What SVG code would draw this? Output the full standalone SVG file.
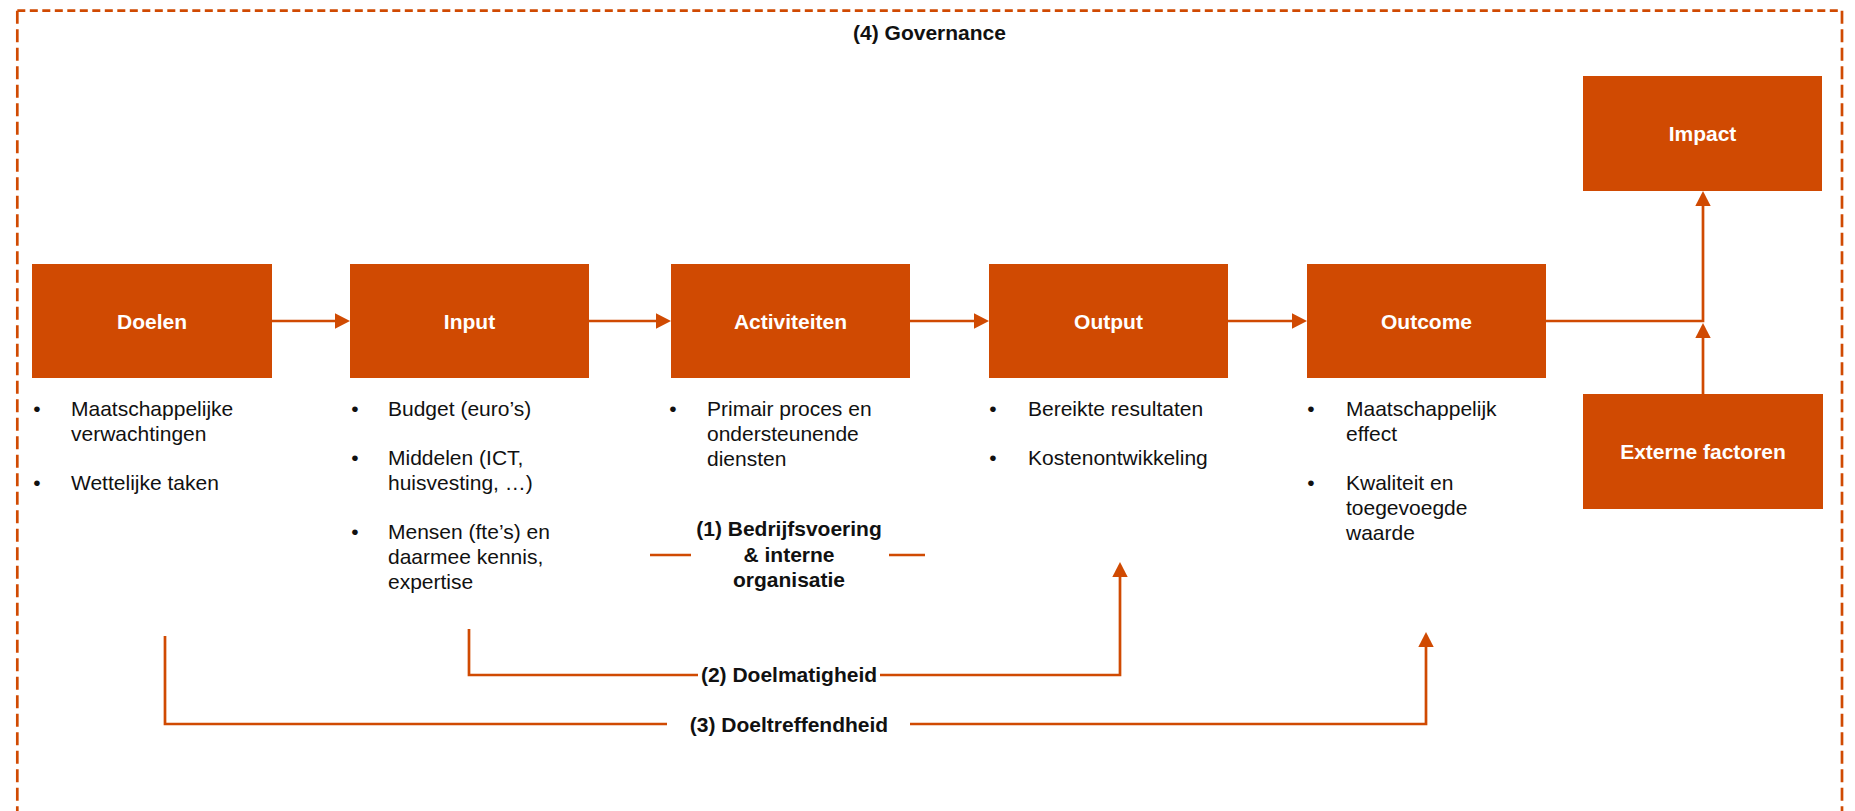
<svg xmlns="http://www.w3.org/2000/svg" width="1855" height="811" viewBox="0 0 1855 811">
<style>
.box{fill:#D04A02;}
.bt{font-family:"Liberation Sans",Arial,sans-serif;font-size:21px;font-weight:bold;fill:#FFFFFF;text-anchor:middle;}
.tx{font-family:"Liberation Sans",Arial,sans-serif;font-size:21px;fill:#111111;}
.bu{font-family:"Liberation Sans",Arial,sans-serif;font-size:21px;fill:#111111;text-anchor:middle;}
.lb{font-family:"Liberation Sans",Arial,sans-serif;font-size:21px;font-weight:bold;fill:#111111;text-anchor:middle;}
.ln{fill:none;stroke:#D04A02;stroke-width:2.7;}
.bh{fill:none;stroke:#D04A02;stroke-width:2.7;stroke-dasharray:8 4.5;}
.bv{fill:none;stroke:#D04A02;stroke-width:2.7;stroke-dasharray:13 5.5;}
</style>
<defs>
<marker id="ah" markerUnits="userSpaceOnUse" viewBox="0 0 15 15.4" markerWidth="15" markerHeight="15.4" refX="0" refY="7.7" orient="auto">
<path d="M0,0 L15,7.7 L0,15.4 Z" fill="#D04A02"/>
</marker>
</defs>
<rect width="1855" height="811" fill="#FFFFFF"/>

<g id="governance">
<line class="bh" x1="17.3" y1="10.7" x2="1842" y2="10.7"/>
<line class="bv" x1="17.3" y1="10.7" x2="17.3" y2="820"/>
<line class="bv" x1="1842" y1="10.7" x2="1842" y2="820"/>
<text class="lb" x="929.5" y="40">(4) Governance</text>
</g>

<g id="connectors">
<line class="ln" x1="272" y1="321" x2="335" y2="321" marker-end="url(#ah)"/>
<line class="ln" x1="589" y1="321" x2="656" y2="321" marker-end="url(#ah)"/>
<line class="ln" x1="910" y1="321" x2="974" y2="321" marker-end="url(#ah)"/>
<line class="ln" x1="1228" y1="321" x2="1292" y2="321" marker-end="url(#ah)"/>
<polyline class="ln" points="1546,321 1703,321 1703,206" marker-end="url(#ah)"/>
<line class="ln" x1="1703" y1="394" x2="1703" y2="338" marker-end="url(#ah)"/>
<line class="ln" x1="650" y1="555" x2="691" y2="555"/>
<line class="ln" x1="889" y1="555" x2="925" y2="555"/>
<polyline class="ln" points="469,629 469,675 698,675"/>
<polyline class="ln" points="880,675 1120,675 1120,577" marker-end="url(#ah)"/>
<polyline class="ln" points="165,636 165,724 667,724"/>
<polyline class="ln" points="910,724 1426,724 1426,647" marker-end="url(#ah)"/>
</g>

<g id="doelen">
<rect class="box" x="32" y="264" width="240" height="114"/>
<text class="bt" x="152" y="328.5">Doelen</text>
<text class="bu" x="37" y="416">•</text>
<text class="tx" x="71" y="416">Maatschappelijke</text>
<text class="tx" x="71" y="441">verwachtingen</text>
<text class="bu" x="37" y="490">•</text>
<text class="tx" x="71" y="490">Wettelijke taken</text>
</g>

<g id="input">
<rect class="box" x="350" y="264" width="239" height="114"/>
<text class="bt" x="469.5" y="328.5">Input</text>
<text class="bu" x="355" y="416">•</text>
<text class="tx" x="388" y="416">Budget (euro’s)</text>
<text class="bu" x="355" y="465">•</text>
<text class="tx" x="388" y="465">Middelen (ICT,</text>
<text class="tx" x="388" y="490">huisvesting, …)</text>
<text class="bu" x="355" y="539">•</text>
<text class="tx" x="388" y="539">Mensen (fte’s) en</text>
<text class="tx" x="388" y="564">daarmee kennis,</text>
<text class="tx" x="388" y="589">expertise</text>
</g>

<g id="activiteiten">
<rect class="box" x="671" y="264" width="239" height="114"/>
<text class="bt" x="790.5" y="328.5">Activiteiten</text>
<text class="bu" x="673" y="416">•</text>
<text class="tx" x="707" y="416">Primair proces en</text>
<text class="tx" x="707" y="441">ondersteunende</text>
<text class="tx" x="707" y="466">diensten</text>
</g>

<g id="output">
<rect class="box" x="989" y="264" width="239" height="114"/>
<text class="bt" x="1108.5" y="328.5">Output</text>
<text class="bu" x="993" y="416">•</text>
<text class="tx" x="1028" y="416">Bereikte resultaten</text>
<text class="bu" x="993" y="465">•</text>
<text class="tx" x="1028" y="465">Kostenontwikkeling</text>
</g>

<g id="outcome">
<rect class="box" x="1307" y="264" width="239" height="114"/>
<text class="bt" x="1426.5" y="328.5">Outcome</text>
<text class="bu" x="1311" y="416">•</text>
<text class="tx" x="1346" y="416">Maatschappelijk</text>
<text class="tx" x="1346" y="441">effect</text>
<text class="bu" x="1311" y="490">•</text>
<text class="tx" x="1346" y="490">Kwaliteit en</text>
<text class="tx" x="1346" y="515">toegevoegde</text>
<text class="tx" x="1346" y="540">waarde</text>
</g>

<g id="impact">
<rect class="box" x="1583" y="76" width="239" height="115"/>
<text class="bt" x="1702.5" y="141">Impact</text>
</g>

<g id="externe-factoren">
<rect class="box" x="1583" y="394" width="240" height="115"/>
<text class="bt" x="1703" y="459">Externe factoren</text>
</g>

<g id="labels">
<text class="lb" x="789" y="536">(1) Bedrijfsvoering</text>
<text class="lb" x="789" y="561.5">&amp; interne</text>
<text class="lb" x="789" y="587">organisatie</text>
<text class="lb" x="789" y="682">(2) Doelmatigheid</text>
<text class="lb" x="789" y="731.5">(3) Doeltreffendheid</text>
</g>
</svg>
